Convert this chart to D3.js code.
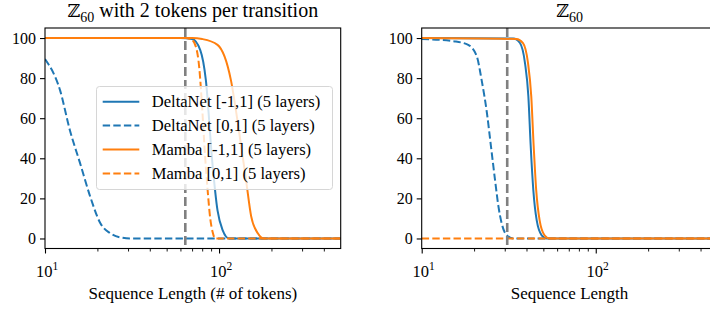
<!DOCTYPE html>
<html>
<head>
<meta charset="utf-8">
<script src="https://cdn.jsdelivr.net/npm/d3@7"></script>
<style>
  body { margin: 0; background: #fff; }
  text { font-family: "Liberation Serif", "DejaVu Serif", serif; fill: #000; }
</style>
</head>
<body>
<script>
// ---- data ----
let yTicks = [0, 20, 40, 60, 80, 100];
let xMajor = [10, 100];
let xMinor = [20, 30, 40, 50, 60, 70, 80, 90, 200, 300, 400];
let seriesNames = ['DeltaNet [-1,1] (5 layers)', 'DeltaNet [0,1] (5 layers)',
                   'Mamba [-1,1] (5 layers)', 'Mamba [0,1] (5 layers)'];

// left panel: Z60 with 2 tokens per transition
let leftDeltaPmX = [10, 60, 70, 78, 84, 91.5, 98, 105, 114, 500];
let leftDeltaPmY = [100, 100, 99.5, 94, 79, 38, 14, 4, 0, 0];
let leftDelta01X = [10, 12.2, 13.9, 15.9, 18.2, 20.8, 23.7, 27.1, 31, 500];
let leftDelta01Y = [89.5, 74, 54, 37.6, 20.8, 7.6, 2.6, 0.5, 0, 0];
let leftMambaPmX = [10, 70, 80, 98, 117, 130, 143, 153, 167, 181, 500];
let leftMambaPmY = [100, 100, 99.5, 96.6, 79, 54, 29, 11, 2.6, 0, 0];
let leftMamba01X = [10, 64, 70, 74, 77, 80, 83, 86, 89, 92, 95, 500];
let leftMamba01Y = [100, 100, 99, 95, 85, 65, 42, 24, 10, 3, 0, 0];
let leftTrainLen = 64;

// right panel: Z60
let rightDeltaPmX = [10, 33.6, 36.7, 39.2, 41.0, 42.3, 43.8, 45.8, 48.9, 52.3, 500];
let rightDeltaPmY = [100, 99.8, 97.5, 87.6, 71, 46, 24, 9, 1.6, 0, 0];
let rightDelta01X = [10, 15.5, 18.5, 20.7, 22.1, 23.7, 25.0, 26.4, 27.6, 28.8, 30.8, 33.5, 500];
let rightDelta01Y = [99.5, 98.3, 96.6, 91, 79, 62.6, 46, 29, 16, 7.6, 1.6, 0, 0];
let rightMambaPmX = [10, 35, 38.2, 40.8, 42.6, 44, 45.5, 47.6, 50.8, 54.4, 500];
let rightMambaPmY = [100, 99.5, 97.5, 87.6, 71, 46, 24, 9, 1.6, 0, 0];
let rightMamba01X = [10, 500];
let rightMamba01Y = [0, 0];
let rightTrainLen = 31;

let colors = ['#1f77b4', '#1f77b4', '#ff7f0e', '#ff7f0e'];
let dashes = [null, '7.4,3.2', null, '7.4,3.2'];

let width = 710;
let height = 309;
let svg = d3.select('body').append('svg')
            .attr('width', width)
            .attr('height', height);

function zip(xs, ys) { return xs.map((x, i) => ({x: x, y: ys[i]})); }

function panel(left, right, series, trainLen, titleParts, xLabel, withLegend) {
    let top = 28, bottom = 248.5;
    let x = d3.scaleLog().domain([10, 500]).range([left, right]);
    let y = d3.scaleLinear().domain([-5, 105]).range([bottom, top]);
    let id = 'clip' + Math.round(left);

    svg.append('clipPath').attr('id', id)
       .append('rect').attr('x', left).attr('y', top)
       .attr('width', right - left).attr('height', bottom - top);

    let g = svg.append('g');
    let plot = g.append('g').attr('clip-path', 'url(#' + id + ')');
    let line = d3.line().x(d => x(d.x)).y(d => y(d.y)).curve(d3.curveMonotoneX);

    series.forEach((s, i) => {
        plot.append('path')
            .attr('d', line(s))
            .attr('fill', 'none')
            .attr('stroke', colors[i])
            .attr('stroke-width', 2)
            .attr('stroke-dasharray', dashes[i]);
    });

    plot.append('line')
        .attr('x1', x(trainLen)).attr('x2', x(trainLen))
        .attr('y1', top).attr('y2', bottom)
        .attr('stroke', '#808080')
        .attr('stroke-width', 2.6)
        .attr('stroke-dasharray', '9,4');

    // y axis
    let ya = g.append('g').attr('transform', 'translate(' + left + ',0)')
              .call(d3.axisLeft(y).tickValues(yTicks).tickSize(5).tickPadding(4));
    ya.select('.domain').remove();
    ya.selectAll('text').attr('font-size', '16px');
    ya.selectAll('line').attr('stroke-width', 1.1);

    // x axis, major + minor ticks
    let xa = g.append('g').attr('transform', 'translate(0,' + bottom + ')')
              .call(d3.axisBottom(x).tickValues(xMajor).tickSize(5).tickFormat(''));
    xa.select('.domain').remove();
    xa.selectAll('line').attr('stroke-width', 1.1);
    let xm = g.append('g').attr('transform', 'translate(0,' + bottom + ')')
              .call(d3.axisBottom(x).tickValues(xMinor).tickSize(3).tickFormat(''));
    xm.select('.domain').remove();
    xm.selectAll('line').attr('stroke-width', 0.9);

    xMajor.forEach(v => {
        let t = g.append('text')
                 .attr('x', x(v) + 2).attr('y', 277)
                 .attr('text-anchor', 'middle')
                 .attr('font-size', '16.5px');
        t.append('tspan').text('10');
        t.append('tspan').attr('dy', -7).attr('font-size', '11.5px')
         .text(Math.round(Math.log10(v)));
    });

    // spines
    g.append('rect')
     .attr('x', left).attr('y', top)
     .attr('width', right - left).attr('height', bottom - top)
     .attr('fill', 'none').attr('stroke', '#000').attr('stroke-width', 1.1);

    // title
    let tt = g.append('text')
              .attr('x', (left + right) / 2).attr('y', 17)
              .attr('text-anchor', 'middle')
              .attr('font-size', '20px');
    tt.append('tspan').attr('font-family', '"DejaVu Serif", serif').attr('font-size', '17.5px').text('ℤ');
    tt.append('tspan').attr('dy', 5).attr('font-size', '14px').text(titleParts[0]);
    if (titleParts[1]) tt.append('tspan').attr('dy', -5).text(titleParts[1]);

    g.append('text')
     .attr('x', (left + right) / 2).attr('y', 299)
     .attr('text-anchor', 'middle')
     .attr('font-size', '17px')
     .text(xLabel);

    if (withLegend) {
        let lg = g.append('g');
        lg.append('rect')
          .attr('x', 96.5).attr('y', 86.5)
          .attr('width', 236).attr('height', 103)
          .attr('rx', 3)
          .attr('fill', 'white').attr('fill-opacity', 0.8)
          .attr('stroke', '#d6d6d6').attr('stroke-width', 1);
        seriesNames.forEach((name, i) => {
            let cy = 101.7 + i * 23.9;
            lg.append('line')
              .attr('x1', 102.7).attr('x2', 139.3)
              .attr('y1', cy).attr('y2', cy)
              .attr('stroke', colors[i]).attr('stroke-width', 2)
              .attr('stroke-dasharray', dashes[i]);
            lg.append('text')
              .attr('x', 151.7).attr('y', cy + 5.5)
              .attr('font-size', '16.6px')
              .text(name);
        });
    }
}

panel(45, 340.7,
      [zip(leftDeltaPmX, leftDeltaPmY), zip(leftDelta01X, leftDelta01Y),
       zip(leftMambaPmX, leftMambaPmY), zip(leftMamba01X, leftMamba01Y)],
      leftTrainLen, ['60', ' with 2 tokens per transition'],
      'Sequence Length (# of tokens)', true);

panel(421.7, 717.4,
      [zip(rightDeltaPmX, rightDeltaPmY), zip(rightDelta01X, rightDelta01Y),
       zip(rightMambaPmX, rightMambaPmY), zip(rightMamba01X, rightMamba01Y)],
      rightTrainLen, ['60', null],
      'Sequence Length', false);
</script>
</body>
</html>
